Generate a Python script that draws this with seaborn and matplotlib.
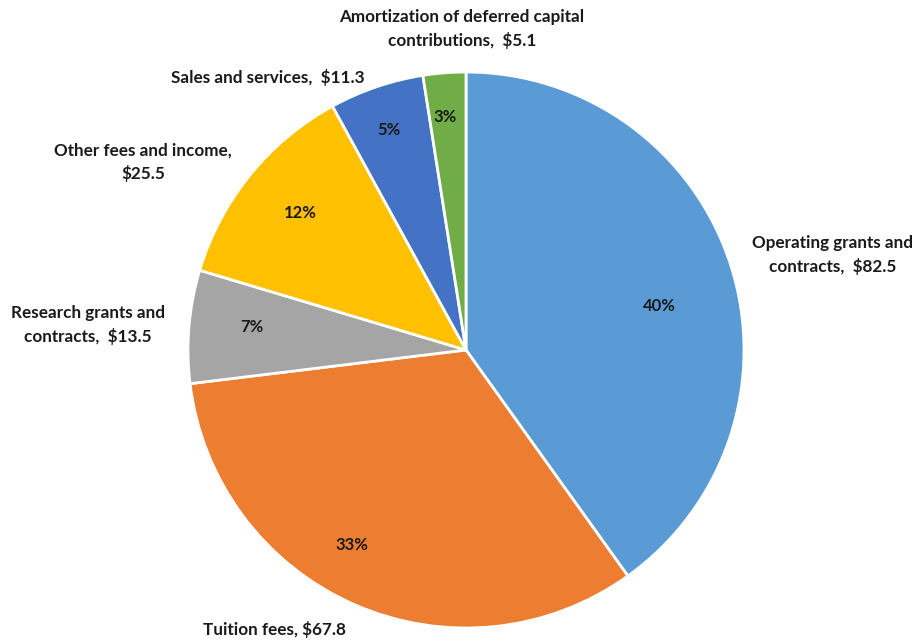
import matplotlib
matplotlib.use("Agg")
import matplotlib.pyplot as plt
import seaborn as sns

# Revenue sources ($ millions)
categories = [
    "Operating grants and\ncontracts,  $82.5",
    "Tuition fees, $67.8",
    "Research grants and\ncontracts,  $13.5",
    "Other fees and income,\n$25.5",
    "Sales and services,  $11.3",
    "Amortization of deferred capital\ncontributions,  $5.1",
]
values = [82.5, 67.8, 13.5, 25.5, 11.3, 5.1]
# Share of total revenue as published (percent)
shares = [40, 33, 7, 12, 5, 3]
colors = ["#5B9BD5", "#ED7D31", "#A5A5A5", "#FFC000", "#4472C4", "#70AD47"]

# Label anchor points (figure pixels, y measured from top)
label_pos = [(833, 255), (274, 630), (88, 325), (143, 162), (268, 77), (462, 29)]
pct_pos = [(659, 306), (352, 545), (252, 327), (300, 213), (389, 130), (445, 117)]

sns.set_theme(style="white")
plt.rcParams["font.family"] = ["Lato", "DejaVu Sans"]

W, H = 917, 641
fig = plt.figure(figsize=(W / 100, H / 100), dpi=100)
ax = fig.add_axes([0, 0, 1, 1])

cx, cy, r = 466, H - 350, 278
ax.pie(values, colors=sns.color_palette(colors), startangle=90, counterclock=False,
       center=(cx, cy), radius=r, frame=True,
       wedgeprops=dict(edgecolor="white", linewidth=2))
ax.set_xlim(0, W)
ax.set_ylim(0, H)
ax.set_aspect("equal")
ax.axis("off")

for s, (px, py) in zip(shares, pct_pos):
    ax.text(px, H - py, f"{s}%", ha="center", va="center",
            fontsize=12, fontweight="bold", color="#1a1a1a")

for lab, (px, py) in zip(categories, label_pos):
    ax.text(px, H - py, lab, ha="center", va="center", fontsize=12.3,
            fontweight="bold", color="#1a1a1a", linespacing=1.45,
            multialignment="center")

fig.savefig("out.png", dpi=100, facecolor="white")
